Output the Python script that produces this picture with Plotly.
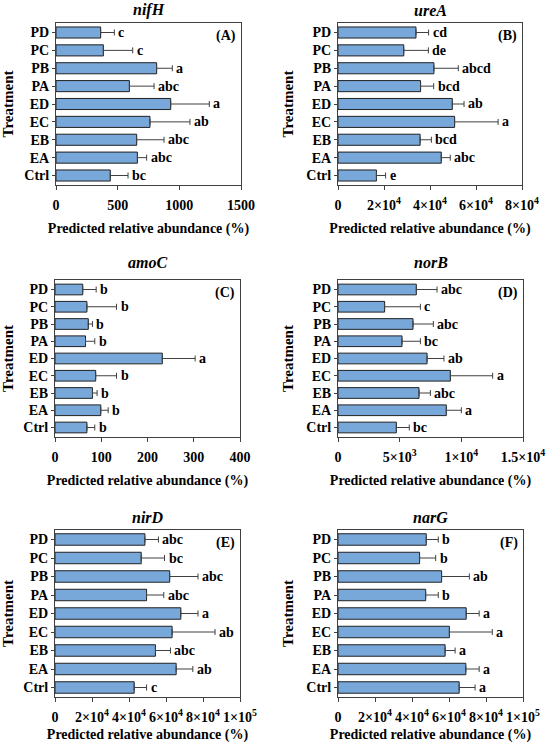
import plotly.graph_objects as go

W, H = 550, 743

treatments = ["Ctrl", "EA", "EB", "EC", "ED", "PA", "PB", "PC", "PD"]

# values (bottom to top: Ctrl ... PD)
nifH_mean = [440, 660, 654, 762, 930, 595, 816, 384, 362]
nifH_err = [144, 75, 222, 324, 313, 200, 127, 238, 111]
nifH_sig = ["bc", "abc", "abc", "ab", "a", "abc", "a", "c", "c"]

ureA_mean = [16700, 44900, 35700, 50700, 49700, 35900, 41700, 28600, 33900]
ureA_err = [4000, 3900, 4900, 18900, 5100, 5700, 10600, 10700, 5500]
ureA_sig = ["e", "abc", "bcd", "a", "ab", "bcd", "abcd", "de", "cd"]

amoC_mean = [69, 99, 81, 88, 232, 66, 72, 69, 60]
amoC_err = [17, 16, 10, 45, 71, 20, 9, 64, 29]
amoC_sig = ["b", "b", "b", "b", "a", "b", "b", "b", "b"]

norB_mean = [4730, 8780, 6570, 9110, 7220, 5190, 6080, 3780, 6350]
norB_err = [1050, 1220, 920, 3430, 1370, 1490, 1650, 2900, 1680]
norB_sig = ["bc", "a", "abc", "a", "ab", "bc", "abc", "c", "abc"]

nirD_mean = [42800, 65500, 54300, 63300, 68000, 49500, 62000, 46600, 48600]
nirD_err = [6700, 9000, 8100, 23200, 9300, 9300, 15300, 12600, 7300]
nirD_sig = ["c", "ab", "abc", "ab", "a", "abc", "abc", "bc", "abc"]

narG_mean = [65500, 69100, 57900, 60200, 69300, 47400, 56000, 44100, 47700]
narG_err = [8600, 7200, 5400, 23200, 7000, 6800, 15000, 8700, 6500]
narG_sig = ["a", "a", "a", "a", "a", "b", "ab", "b", "b"]

e4_ticks = ["0", "2×10<sup>4</sup>", "4×10<sup>4</sup>", "6×10<sup>4</sup>", "8×10<sup>4</sup>"]

panels = [
    ("nifH", "(A)", nifH_mean, nifH_err, nifH_sig, [0, 1500],
     [0, 500, 1000, 1500], ["0", "500", "1000", "1500"]),
    ("ureA", "(B)", ureA_mean, ureA_err, ureA_sig, [0, 80000],
     [0, 20000, 40000, 60000, 80000], e4_ticks),
    ("amoC", "(C)", amoC_mean, amoC_err, amoC_sig, [0, 400],
     [0, 100, 200, 300, 400], ["0", "100", "200", "300", "400"]),
    ("norB", "(D)", norB_mean, norB_err, norB_sig, [0, 15000],
     [0, 5000, 10000, 15000],
     ["0", "5×10<sup>3</sup>", "1×10<sup>4</sup>", "1.5×10<sup>4</sup>"]),
    ("nirD", "(E)", nirD_mean, nirD_err, nirD_sig, [0, 100000],
     [0, 20000, 40000, 60000, 80000, 100000], e4_ticks + ["1×10<sup>5</sup>"]),
    ("narG", "(F)", narG_mean, narG_err, narG_sig, [0, 100000],
     [0, 20000, 40000, 60000, 80000, 100000], e4_ticks + ["1×10<sup>5</sup>"]),
]

# plot frames in pixels: (left, right, top, bottom), and title centre y
frames = [
    (56, 241, 23, 185), (338, 522, 23, 185),
    (55, 240, 280, 437), (338, 523, 280, 437),
    (55, 240, 530, 697), (338, 523, 530, 697),
]
title_y = [10, 10, 262, 262, 517, 517]

FONT = "Liberation Serif, Times New Roman, serif"
bar_color = "#78A8DA"
line_gray = "#404040"

fig = go.Figure()
annotations = []

for i, (gene, tag, mean, err, sig, rng, tv, tt) in enumerate(panels):
    n = i + 1
    xa = "x" if n == 1 else f"x{n}"
    ya = "y" if n == 1 else f"y{n}"
    l, r, t, b = frames[i]

    fig.add_trace(go.Bar(
        x=mean, y=treatments, orientation="h",
        xaxis=xa, yaxis=ya, width=0.62,
        marker=dict(color=bar_color, line=dict(color="#202020", width=1)),
        error_x=dict(type="data", array=err, arrayminus=[0] * len(err),
                     symmetric=False, color=line_gray, thickness=1, width=3),
        showlegend=False, hoverinfo="skip",
    ))

    # significance letters just right of each error bar cap
    for cat, m, e, s in zip(treatments, mean, err, sig):
        annotations.append(dict(
            x=m + e, y=cat, xref=xa, yref=ya, text=f"<b>{s}</b>",
            xanchor="left", yanchor="middle", xshift=2, showarrow=False,
            font=dict(family=FONT, size=14, color="black"),
        ))

    fig.update_layout(**{
        ("xaxis" if n == 1 else f"xaxis{n}"): dict(
            domain=[l / W, r / W], anchor=ya, range=rng, automargin=False,
            tickvals=tv, ticktext=[f"<b>{s}</b>" for s in tt], tickangle=0,
            showgrid=False, zeroline=False,
            showline=True, linecolor=line_gray, linewidth=1, mirror=True,
            ticks="outside", ticklen=4, tickcolor=line_gray,
            ticklabelstandoff=3,
            tickfont=dict(family=FONT, size=14, color="black"),
            title=dict(text="<b>Predicted relative abundance (%)</b>",
                       font=dict(family=FONT, size=14, color="black"),
                       standoff=11),
        ),
        ("yaxis" if n == 1 else f"yaxis{n}"): dict(
            domain=[1 - b / H, 1 - t / H], anchor=xa, automargin=False,
            categoryorder="array", categoryarray=treatments,
            tickvals=treatments, ticktext=[f"<b>{c}</b>" for c in treatments],
            showgrid=False, showline=True, linecolor=line_gray, linewidth=1,
            mirror=True, ticks="outside", ticklen=3, tickcolor=line_gray,
            tickfont=dict(family=FONT, size=14, color="black"),
            title=dict(text="<b>Treatment</b>",
                       font=dict(family=FONT, size=15, color="black"),
                       standoff=9),
        ),
    })

    annotations.append(dict(
        text=f"<b><i>{gene}</i></b>", x=(l + r) / 2 / W, y=1 - title_y[i] / H,
        xref="paper", yref="paper", xanchor="center", yanchor="middle",
        showarrow=False, font=dict(family=FONT, size=16, color="black"),
    ))
    annotations.append(dict(
        text=f"<b>{tag}</b>", x=(r - 3) / W, y=1 - (t + 3) / H,
        xref="paper", yref="paper", xanchor="right", yanchor="top",
        showarrow=False, font=dict(family=FONT, size=14, color="black"),
    ))

fig.update_layout(
    width=W, height=H,
    margin=dict(l=0, r=0, t=0, b=0),
    paper_bgcolor="white", plot_bgcolor="white",
    annotations=annotations,
)

fig.write_html("out.html", config={"displayModeBar": False},
               post_script="document.body.style.margin='0px';")
